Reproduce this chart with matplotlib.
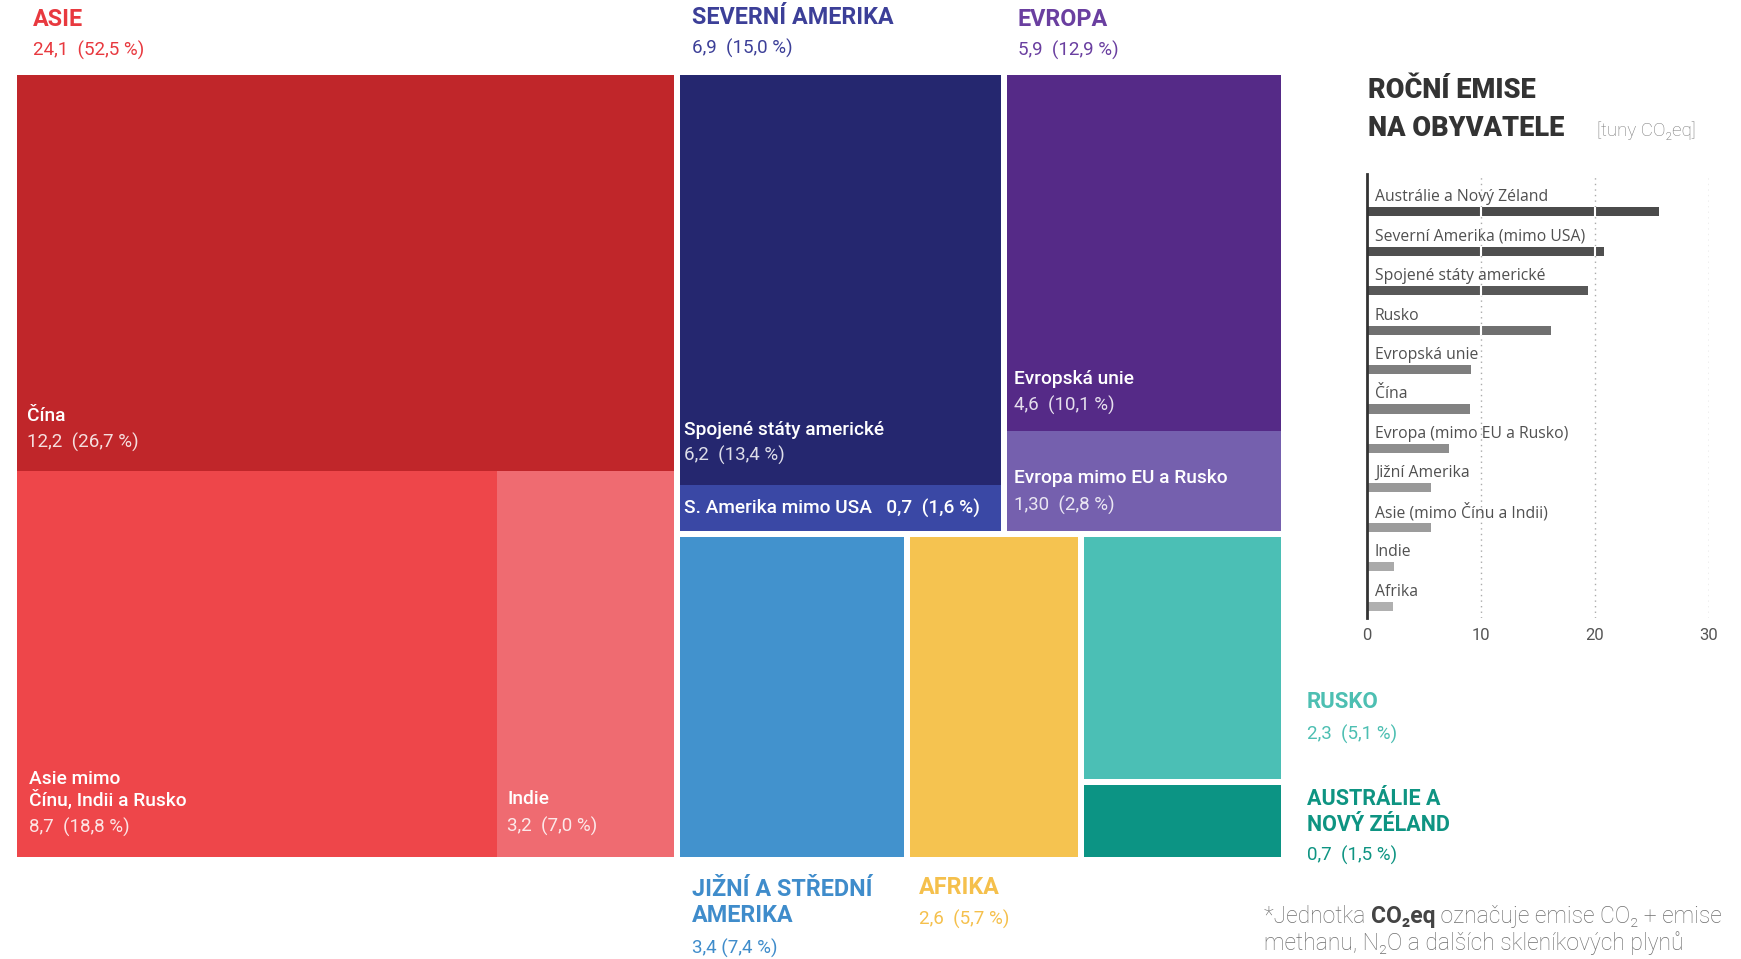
import matplotlib.pyplot as plt
from matplotlib.patches import Rectangle

plt.rcParams['font.family'] = ['Roboto', 'DejaVu Sans']

# emise po regionech (Gt CO2eq)
asie = [12.2, 8.7, 3.2]            # Čína, Asie mimo..., Indie
sev_amerika = [6.2, 0.7]           # USA, mimo USA
evropa = [4.6, 1.30]               # EU, mimo EU a Rusko
jizni_amerika = 3.4
afrika = 2.6
rusko = 2.3
australie = 0.7

# podily v %
pct_asie = [26.7, 18.8, 7.0]
pct_sev = [13.4, 1.6]
pct_evr = [10.1, 2.8]
pct_celkem = {'asie': 52.5, 'sev': 15.0, 'evr': 12.9, 'jiz': 7.4,
              'afr': 5.7, 'rus': 5.1, 'aus': 1.5}

# emise na obyvatele (t CO2eq)
bar_labels = ['Austrálie a Nový Zéland', 'Severní Amerika (mimo USA)',
              'Spojené státy americké', 'Rusko', 'Evropská unie', 'Čína',
              'Evropa (mimo EU a Rusko)', 'Jižní Amerika',
              'Asie (mimo Čínu a Indii)', 'Indie', 'Afrika']
bar_values = [25.6, 20.8, 19.4, 16.1, 9.1, 9.0, 7.2, 5.6, 5.6, 2.4, 2.3]
bar_colors = ['#4b4b4b', '#4f4f4f', '#585858', '#707070', '#7e7e7e', '#828282',
              '#8e8e8e', '#999999', '#9c9c9c', '#aaaaaa', '#b0b0b0']


def fmt(v, d=1):
    return f'{v:.{d}f}'.replace('.', ',')


fig = plt.figure(figsize=(17.41, 9.59), dpi=100)
ax = fig.add_axes([0, 0, 1, 1])
ax.set_xlim(0, 1741)
ax.set_ylim(959, 0)
ax.axis('off')


def box(x0, y0, x1, y1, c):
    ax.add_patch(Rectangle((x0, y0), x1 - x0, y1 - y0, color=c, lw=0))


# treemap layout
X0, Y0, X1, Y1 = 17, 75, 1281, 857
G = 6
total = sum(asie) + sum(sev_amerika) + sum(evropa) + jizni_amerika + afrika + rusko + australie

xa = X0 + (X1 - X0) * sum(asie) / total - 4
ar = xa - G / 2
yc = Y0 + (Y1 - Y0) * asie[0] / sum(asie)
xs = X0 + (ar - X0) * asie[1] / (asie[1] + asie[2])
box(X0, Y0, ar, yc, '#c0262a')
box(X0, yc, xs, Y1, '#ee464a')
box(xs, yc, ar, Y1, '#ef6b71')

rx = xa + G / 2
rest = total - sum(asie)
top = sum(sev_amerika) + sum(evropa)
yt = Y0 + (Y1 - Y0) * top / rest
xn = rx + (X1 - rx) * sum(sev_amerika) / top
yu = Y0 + (yt - G / 2 - Y0) * sev_amerika[0] / sum(sev_amerika)
box(rx, Y0, xn - G / 2, yu, '#25276f')
box(rx, yu, xn - G / 2, yt - G / 2, '#3a48a5')
ye = Y0 + (yt - G / 2 - Y0) * evropa[0] / sum(evropa)
box(xn + G / 2, Y0, X1, ye, '#552a87')
box(xn + G / 2, ye, X1, yt - G / 2, '#7560ae')

bot = jizni_amerika + afrika + rusko + australie
by = yt + G / 2
xj = rx + (X1 - rx) * jizni_amerika / bot
xf = rx + (X1 - rx) * (jizni_amerika + afrika) / bot
yr = by + (Y1 - by) * rusko / (rusko + australie)
box(rx, by, xj - G / 2, Y1, '#4292cd')
box(xj + G / 2, by, xf - G / 2, Y1, '#f5c350')
box(xf + G / 2, by, X1, yr - G / 2, '#4bbfb5')
box(xf + G / 2, yr + G / 2, X1, Y1, '#0c9484')

W = 'white'


def lab(x, y, s, c=W, size=13.8, weight='medium', alpha=1.0):
    ax.text(x, y, s, color=c, fontsize=size, fontweight=weight, alpha=alpha,
            va='center', ha='left')


def val(x, y, s, c=W, size=13.5):
    lab(x, y, s, c, size, 'normal', 0.85 if c == W else 1.0)


# inner labels
lab(X0 + 10, yc - 55, 'Čína')
val(X0 + 10, yc - 28, f'{fmt(asie[0])}  ({fmt(pct_asie[0])} %)')
lab(X0 + 12, Y1 - 78, 'Asie mimo')
lab(X0 + 12, Y1 - 57, 'Čínu, Indii a Rusko')
val(X0 + 12, Y1 - 30, f'{fmt(asie[1])}  ({fmt(pct_asie[1])} %)')
lab(xs + 10, Y1 - 58, 'Indie')
val(xs + 10, Y1 - 31, f'{fmt(asie[2])}  ({fmt(pct_asie[2])} %)')
lab(rx + 4, yu - 55, 'Spojené státy americké')
val(rx + 4, yu - 29, f'{fmt(sev_amerika[0])}  ({fmt(pct_sev[0])} %)')
lab(rx + 4, (yu + yt - G / 2) / 2,
    f'S. Amerika mimo USA   {fmt(sev_amerika[1])}  ({fmt(pct_sev[1])} %)')
lab(xn + 10, ye - 52, 'Evropská unie')
val(xn + 10, ye - 25, f'{fmt(evropa[0])}  ({fmt(pct_evr[0])} %)')
lab(xn + 10, ye + 47, 'Evropa mimo EU a Rusko')
val(xn + 10, ye + 75, f'{fmt(evropa[1], 2)}  ({fmt(pct_evr[1])} %)')

# outer headers
c_as, c_na, c_eu = '#e8393f', '#3c3f98', '#6a3fa0'
c_sa, c_af, c_ru, c_au = '#3f8ccb', '#f5c04c', '#4dbfb2', '#0e9482'
H = 16.8
lab(X0 + 16, 20, 'ASIE', c_as, H, 'bold')
val(X0 + 16, 50, f'{fmt(sum(asie))}  ({fmt(pct_celkem["asie"])} %)', c_as)
lab(rx + 12, 17, 'SEVERNÍ AMERIKA', c_na, H, 'bold')
val(rx + 12, 48, f'{fmt(sum(sev_amerika))}  ({fmt(pct_celkem["sev"])} %)', c_na)
lab(xn + 14, 19, 'EVROPA', c_eu, H, 'bold')
val(xn + 14, 50, f'{fmt(sum(evropa))}  ({fmt(pct_celkem["evr"])} %)', c_eu)
lab(rx + 12, 889, 'JIŽNÍ A STŘEDNÍ', c_sa, H, 'bold')
lab(rx + 12, 915, 'AMERIKA', c_sa, H, 'bold')
val(rx + 12, 948, f'{fmt(jizni_amerika)} ({fmt(pct_celkem["jiz"])} %)', c_sa)
lab(xj + 12, 888, 'AFRIKA', c_af, H, 'bold')
val(xj + 12, 919, f'{fmt(afrika)}  ({fmt(pct_celkem["afr"])} %)', c_af)
lab(X1 + 26, 702, 'RUSKO', c_ru, 16, 'bold')
val(X1 + 26, 734, f'{fmt(rusko)}  ({fmt(pct_celkem["rus"])} %)', c_ru)
lab(X1 + 26, 799, 'AUSTRÁLIE A', c_au, 15.5, 'bold')
lab(X1 + 26, 825, 'NOVÝ ZÉLAND', c_au, 15.5, 'bold')
val(X1 + 26, 855, f'{fmt(australie)}  ({fmt(pct_celkem["aus"])} %)', c_au)

# footnote
FC = '#6e6e6e'
t1 = ax.text(1264, 923, '*Jednotka ', color=FC, fontsize=16.5,
             fontweight='light', va='baseline')
t2 = ax.annotate('CO₂eq', xy=(1, 0), xycoords=t1, color='#444444', fontsize=16.5,
                 fontweight='bold', va='bottom')
ax.annotate(' označuje emise CO₂ + emise', xy=(1, 0), xycoords=t2, color=FC,
            fontsize=16.5, fontweight='light', va='bottom')
ax.text(1264, 950, 'methanu, N₂O a dalších skleníkových plynů', color=FC,
        fontsize=16.5, fontweight='light', va='baseline')

# title of bar chart
ax.text(1368, 91, 'ROČNÍ EMISE', color='#333333', fontsize=19.5, fontweight='heavy',
        va='center')
ax.text(1368, 129, 'NA OBYVATELE', color='#333333', fontsize=19.5, fontweight='heavy',
        va='center')
ax.text(1597, 131, '[tuny CO₂eq]', color='#7a7a7a', fontsize=13.5, fontweight='light',
        va='center')

# bar chart
bx = fig.add_axes([1367 / 1741, 1 - 618 / 959, 342 / 1741, 444 / 959])
rows = list(range(len(bar_values)))
for x in [10, 20, 30]:
    bx.axvline(x, color='#aaaaaa', lw=1, ls=(0, (1, 3)), zorder=0)
bx.barh(rows, bar_values, height=0.23, color=bar_colors, zorder=2)
for r, v in zip(rows, bar_values):
    for x in [10, 20]:
        if v > x:
            bx.vlines(x, r - 0.13, r + 0.13, color='white', lw=1.5, zorder=3)
    bx.text(0.7, r - 0.37, bar_labels[r], fontsize=11.3, color='#505050',
            family=['Open Sans', 'DejaVu Sans'], va='center', ha='left', zorder=4)
bx.set_xlim(0, 30)
bx.set_ylim(10.3, -0.96)
bx.set_xticks([0, 10, 20, 30])
bx.set_xticklabels(['0', '10', '20', '30'])
bx.set_yticks([])
bx.tick_params(axis='x', length=0, pad=7, labelsize=12, labelcolor='#555555')
for s in ['top', 'right', 'bottom']:
    bx.spines[s].set_visible(False)
bx.spines['left'].set_color('#333333')
bx.spines['left'].set_linewidth(2)
bx.patch.set_alpha(0)

fig.savefig('out.png', dpi=100, facecolor='white')
